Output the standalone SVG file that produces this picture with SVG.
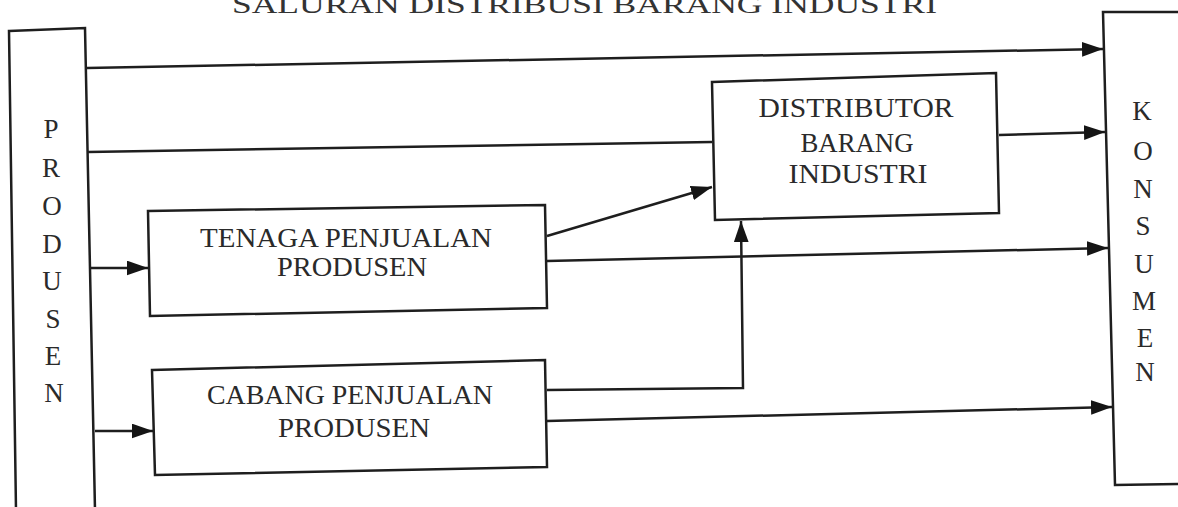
<svg xmlns="http://www.w3.org/2000/svg" width="1178" height="507" viewBox="0 0 1178 507">
<defs>
<marker id="ah" viewBox="0 0 20 14" refX="20" refY="7" markerWidth="21" markerHeight="15" markerUnits="userSpaceOnUse" orient="auto">
<path d="M0,0 L20,7 L0,14 Z" fill="#151515"/>
</marker>
<style>
.box{fill:#fff;stroke:#1e1e1e;stroke-width:2.5}
.ln{fill:none;stroke:#1e1e1e;stroke-width:2.5}
.arr{fill:none;stroke:#1e1e1e;stroke-width:2.5;marker-end:url(#ah)}
.t{font-family:"Liberation Serif",serif;font-size:27px;fill:#2a2a2a;text-anchor:middle}
.v{font-family:"Liberation Serif",serif;font-size:27px;fill:#2a2a2a;text-anchor:middle}
</style>
</defs>
<rect width="1178" height="507" fill="#fff"/>
<text x="232" y="13" font-family="Liberation Serif,serif" font-size="26" fill="#333" textLength="705" lengthAdjust="spacingAndGlyphs">SALURAN DISTRIBUSI BARANG INDUSTRI</text>
<g id="produsen">
<polygon class="box" points="9,31 85,28 95,510 16,510"/>
<text class="v" x="51" y="138">P</text>
<text class="v" x="51" y="177">R</text>
<text class="v" x="52" y="215">O</text>
<text class="v" x="52" y="253">D</text>
<text class="v" x="52" y="290">U</text>
<text class="v" x="53" y="328">S</text>
<text class="v" x="53" y="365">E</text>
<text class="v" x="54" y="402">N</text>
</g>
<g id="konsumen">
<polygon class="box" points="1103,12 1182,12 1182,484 1115,485"/>
<text class="v" x="1142" y="120">K</text>
<text class="v" x="1143" y="160">O</text>
<text class="v" x="1143" y="198">N</text>
<text class="v" x="1143" y="235">S</text>
<text class="v" x="1144" y="273">U</text>
<text class="v" x="1144" y="310">M</text>
<text class="v" x="1145" y="347">E</text>
<text class="v" x="1145" y="381">N</text>
</g>
<g id="distributor">
<polygon class="box" points="712,82 996,73 999,213 715,220"/>
<text class="t" x="856" y="117" textLength="195" lengthAdjust="spacingAndGlyphs">DISTRIBUTOR</text>
<text class="t" x="857" y="152" textLength="113" lengthAdjust="spacingAndGlyphs">BARANG</text>
<text class="t" x="858" y="183" textLength="139" lengthAdjust="spacingAndGlyphs">INDUSTRI</text>
</g>
<g id="tenaga">
<polygon class="box" points="148,211 545,205 547,308 150,316"/>
<text class="t" x="346" y="247" textLength="292" lengthAdjust="spacingAndGlyphs">TENAGA PENJUALAN</text>
<text class="t" x="352" y="276" textLength="150" lengthAdjust="spacingAndGlyphs">PRODUSEN</text>
</g>
<g id="cabang">
<polygon class="box" points="152,370 545,360 547,467 155,475"/>
<text class="t" x="350" y="404" textLength="286" lengthAdjust="spacingAndGlyphs">CABANG PENJUALAN</text>
<text class="t" x="354" y="437" textLength="152" lengthAdjust="spacingAndGlyphs">PRODUSEN</text>
</g>
<g id="connectors">
<line class="arr" x1="87" y1="68" x2="1103" y2="49"/>
<line class="ln" x1="88" y1="152" x2="712" y2="142"/>
<line class="arr" x1="999" y1="135" x2="1105" y2="132"/>
<line class="arr" x1="91" y1="268" x2="148" y2="268"/>
<line class="arr" x1="547" y1="236" x2="712" y2="187"/>
<line class="arr" x1="547" y1="261" x2="1108" y2="248"/>
<line class="arr" x1="95" y1="431" x2="153" y2="431"/>
<polyline class="arr" points="547,390 743,388 741,221"/>
<line class="arr" x1="547" y1="421" x2="1112" y2="407"/>
</g>
</svg>
